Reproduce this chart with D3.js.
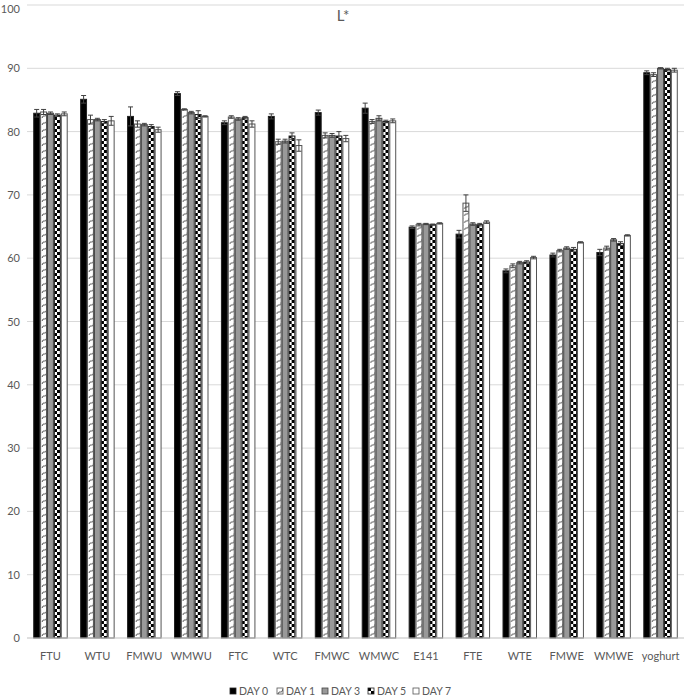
<!DOCTYPE html>
<html><head><meta charset="utf-8">
<script src="https://cdn.jsdelivr.net/npm/d3@7"></script>
<style>body{margin:0;background:#fff;} text{font-family:Lato,"Liberation Sans",sans-serif;}</style>
</head><body>
<svg id="chart" width="685" height="699"></svg>
<script>
const categories = ["FTU","WTU","FMWU","WMWU","FTC","WTC","FMWC","WMWC","E141","FTE","WTE","FMWE","WMWE","yoghurt"];
const seriesNames = ["DAY 0","DAY 1","DAY 3","DAY 5","DAY 7"];
const day0 = [82.9,85.1,82.4,86.0,81.4,82.4,83.0,83.7,64.9,63.8,58.0,60.5,60.9,89.3];
const day1 = [83.1,81.9,81.2,83.5,82.3,78.4,79.4,81.6,65.3,68.7,58.8,61.2,61.6,89.0];
const day3 = [82.9,81.9,81.1,83.0,82.0,78.5,79.4,82.1,65.4,65.4,59.3,61.6,62.9,90.0];
const day5 = [82.6,81.6,80.8,82.7,82.2,79.3,79.3,81.6,65.3,65.3,59.4,61.4,62.3,89.8];
const day7 = [82.8,81.7,80.3,82.4,81.2,77.8,78.9,81.7,65.5,65.7,60.1,62.5,63.6,89.7];
const err0 = [0.6,0.6,1.5,0.3,0.3,0.4,0.4,0.8,0.2,0.6,0.3,0.3,0.5,0.3];
const err1 = [0.4,0.7,0.5,0.1,0.2,0.4,0.4,0.3,0.2,1.3,0.3,0.2,0.3,0.3];
const err3 = [0.2,0.2,0.2,0.2,0.2,0.3,0.3,0.4,0.1,0.2,0.2,0.2,0.2,0.1];
const err5 = [0.2,0.3,0.3,0.6,0.2,0.5,0.7,0.2,0.1,0.2,0.2,0.3,0.3,0.2];
const err7 = [0.3,0.7,0.4,0.1,0.5,0.9,0.5,0.3,0.1,0.2,0.2,0.1,0.1,0.3];
const yTicks = [0,10,20,30,40,50,60,70,80,90,100];

const values = [day0,day1,day3,day5,day7];
const errors = [err0,err1,err3,err5,err7];

const svg = d3.select("#chart");
const defs = svg.append("defs");
const p1 = defs.append("pattern").attr("id","pWave").attr("patternUnits","userSpaceOnUse").attr("width",7).attr("height",7);
p1.append("rect").attr("width",7).attr("height",7).attr("fill","#fff");
p1.append("path").attr("d","M1,6 Q2,3 3.5,4 Q5,5 6,1").attr("fill","none").attr("stroke","#555").attr("stroke-width",1);
const p5 = defs.append("pattern").attr("id","pCheck").attr("patternUnits","userSpaceOnUse").attr("width",6).attr("height",6);
p5.append("rect").attr("width",6).attr("height",6).attr("fill","#fff");
p5.append("rect").attr("width",3).attr("height",3).attr("fill","#000");
p5.append("rect").attr("x",3).attr("y",3).attr("width",3).attr("height",3).attr("fill","#000");

const fills = ["#000","url(#pWave)","#999","url(#pCheck)","#fff"];
const strokes = ["#222","#555","#444","#222","#555"];

const x0 = d3.scaleBand().domain(categories).range([27,684]).paddingInner(0).paddingOuter(0);
const groupW = x0.bandwidth()*0.735;
const x1 = d3.scaleBand().domain(seriesNames).range([(x0.bandwidth()-groupW)/2,(x0.bandwidth()+groupW)/2]).padding(0);
const y = d3.scaleLinear().domain([0,100]).range([638,5]);

svg.append("g").selectAll("line").data(yTicks.filter(d=>d>0)).join("line")
  .attr("x1",27).attr("x2",684).attr("y1",d=>y(d)).attr("y2",d=>y(d))
  .attr("stroke","#d9d9d9").attr("stroke-width",1);

const yAxis = d3.axisLeft(y).tickValues(yTicks).tickSize(0).tickPadding(0);
const gy = svg.append("g").attr("transform","translate(20,0)").call(yAxis);
gy.select(".domain").remove();
gy.selectAll("text").attr("font-size",11).attr("fill","#595959").attr("font-family","Lato,'Liberation Sans',sans-serif")
  .attr("dy",d=>d===100?"0.7em":"0.32em");

const groups = svg.append("g").selectAll("g").data(categories).join("g")
  .attr("transform",d=>`translate(${x0(d)},0)`);
seriesNames.forEach((s,si)=>{
  groups.append("rect")
    .attr("x",x1(s)+0.5).attr("width",x1.bandwidth()-1)
    .attr("y",(d,i)=>y(values[si][i])).attr("height",(d,i)=>y(0)-y(values[si][i]))
    .attr("fill",fills[si]).attr("stroke",strokes[si]).attr("stroke-width",1);
});
seriesNames.forEach((s,si)=>{
  const cx = x1(s)+x1.bandwidth()/2;
  groups.append("path")
    .attr("d",(d,i)=>{
      const v=values[si][i], e=errors[si][i];
      const t=y(v+e), b=y(v-e);
      return `M${cx},${t}V${b}M${cx-2.5},${t}H${cx+2.5}M${cx-2.5},${b}H${cx+2.5}`;
    })
    .attr("fill","none").attr("stroke","#404040").attr("stroke-width",1);
});

svg.append("line").attr("x1",27).attr("x2",684).attr("y1",y(0)).attr("y2",y(0)).attr("stroke","#bfbfbf");
const xAxis = d3.axisBottom(x0).tickSize(0).tickPadding(14);
const gx = svg.append("g").attr("transform",`translate(0,${y(0)})`).call(xAxis);
gx.select(".domain").remove();
gx.selectAll("text").attr("font-size",11).attr("fill","#595959").attr("font-family","Lato,'Liberation Sans',sans-serif");

svg.append("text").attr("x",343).attr("y",21).attr("text-anchor","middle")
  .attr("font-size",15).attr("fill","#595959").text("L*");

const legX = [230,277,322,368,413];
const leg = svg.append("g").selectAll("g").data(seriesNames).join("g")
  .attr("transform",(d,i)=>`translate(${legX[i]},688)`);
leg.append("rect").attr("width",6).attr("height",6).attr("y",0)
  .attr("fill",(d,i)=>fills[i]).attr("stroke",(d,i)=>strokes[i]).attr("stroke-width",0.8);
leg.append("text").attr("x",9).attr("y",6.5).attr("font-size",10.5).attr("fill","#595959").text(d=>d);
</script>
</body></html>
